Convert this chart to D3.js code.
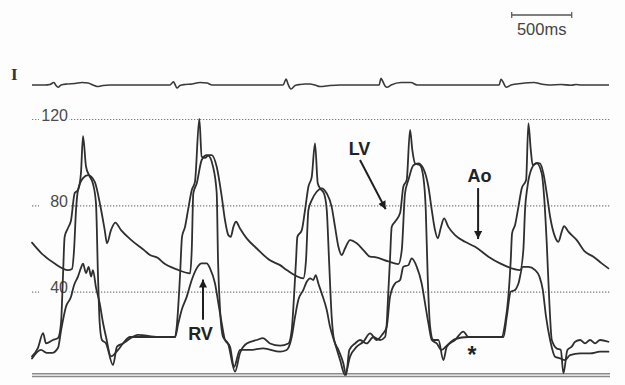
<!DOCTYPE html>
<html><head><meta charset="utf-8">
<script src="https://cdn.jsdelivr.net/npm/d3@7"></script>
<style>html,body{margin:0;padding:0;background:#fdfdfd}svg{display:block}</style>
</head><body><svg id="c" width="625" height="385"></svg>
<script>
// time in ms, pressure in mmHg
const aortic = [[0,62.7],[75,58],[189,53],[300,50],[333,50.5],[350,59],[367,78],[383,87],[425,92.6],[467,94],[522,91],[572,79],[606,68.5],[625,62.4],[658,68.5],[694,72],[742,68.5],[825,64],[939,59],[983,57],[1050,55.6],[1094,53.4],[1206,50.3],[1317,48.5],[1331,59.3],[1344,85.5],[1373,90.2],[1414,101],[1456,103.3],[1497,103.3],[1539,97.9],[1581,84],[1608,73.2],[1636,66.2],[1656,65.4],[1678,70],[1700,72.4],[1733,69.3],[1789,64.7],[1873,60],[1983,54.5],[2067,52.3],[2122,50],[2261,46.2],[2283,54.6],[2303,77.8],[2331,82.4],[2372,86.3],[2414,87.9],[2456,85.5],[2497,79.3],[2525,70],[2553,60.8],[2581,57],[2608,60],[2650,63.9],[2706,62.4],[2761,59.3],[2817,56.2],[2858,56],[2969,54],[3053,52.8],[3081,59.3],[3108,85.5],[3136,91.7],[3178,98.6],[3219,99.4],[3261,97],[3303,88.6],[3331,77.8],[3358,68.5],[3381,64.7],[3408,70],[3433,74],[3469,70],[3525,66.2],[3608,63.1],[3692,60.8],[3803,56.2],[3900,53.1],[4067,50],[4094,59.3],[4108,77.8],[4128,88.6],[4164,97.1],[4206,99.7],[4233,99.4],[4261,94.8],[4289,85.5],[4317,74.7],[4358,65.4],[4386,63.1],[4414,67.8],[4433,70.4],[4469,67.8],[4539,63.9],[4608,58.5],[4678,56.2],[4747,53.1],[4803,50.8]];

const leftVentricle = [[0,10],[50,14],[92,20.8],[117,16],[175,17.6],[217,18.5],[242,25.5],[258,47],[272,65.4],[300,69.5],[325,73],[356,85.7],[383,87],[408,95],[425,112],[450,98],[475,94],[508,90],[533,81],[550,47],[564,25.5],[583,17.6],[617,16],[675,6],[708,14.5],[758,16],[800,17.6],[883,20],[1050,19],[1192,19],[1206,23.8],[1233,47],[1250,65.4],[1275,70],[1300,77.8],[1331,87],[1358,91],[1394,120],[1414,102.5],[1442,102],[1467,103],[1508,98],[1539,85.7],[1550,54.6],[1567,31.5],[1592,19],[1633,16],[1692,3],[1733,11.6],[1789,16],[1873,17.6],[1925,18.5],[1983,16],[2067,15],[2136,16],[2164,22.2],[2183,37.6],[2200,54.6],[2211,65.4],[2248,68.5],[2275,77.8],[2303,88.6],[2331,93.2],[2358,108.7],[2381,90.2],[2400,87.9],[2433,85.5],[2456,77.8],[2475,54.6],[2497,28.4],[2517,17.6],[2553,13],[2594,6.8],[2617,1.4],[2644,13],[2692,16],[2733,17.6],[2789,16],[2844,19],[2900,17.6],[2942,19],[2956,25.5],[2969,40],[2983,55],[2997,70],[3025,72.4],[3067,76.4],[3094,88.6],[3122,91.7],[3150,115],[3169,105.6],[3192,99.4],[3233,98.6],[3261,93],[3281,77.8],[3297,47],[3317,23.8],[3344,17.6],[3386,17.6],[3428,8.3],[3456,14.5],[3525,17.6],[3594,21.5],[3636,19],[3692,19],[3900,19],[3914,19],[3942,25.3],[3969,37.6],[3989,54.6],[4000,67],[4025,70.9],[4053,79.3],[4081,87.9],[4117,91.7],[4136,118],[4156,105.6],[4172,98.6],[4206,99.4],[4247,94.8],[4267,84],[4289,62.4],[4311,34.6],[4331,17.6],[4372,13.7],[4406,13],[4428,2.2],[4461,13],[4497,14.5],[4525,16.8],[4567,17.6],[4608,16],[4650,17.6],[4692,16],[4733,17.6],[4803,16.8]];

const rightVentricle = [[0,9],[75,13],[125,11.6],[167,11.6],[217,14],[242,22],[283,33],[325,37.6],[350,43],[383,47],[408,51],[425,53],[450,48.6],[472,51.5],[492,47],[508,50],[533,42],[564,34.7],[592,25.5],[617,19],[658,10],[717,13],[758,16],[817,19],[1050,19],[1192,19],[1219,25.3],[1247,31.5],[1289,37.6],[1331,45.4],[1372,50.8],[1414,53.1],[1456,53.1],[1483,50.8],[1525,43.8],[1553,34.6],[1581,25.3],[1608,17.6],[1650,14.5],[1683,5],[1733,13],[1817,13],[1928,13.7],[2067,12.2],[2122,13],[2164,19],[2192,28.4],[2219,36.1],[2261,40.8],[2289,44.6],[2317,46.2],[2344,45.4],[2364,47.7],[2386,43.8],[2414,39.2],[2456,31.5],[2483,23.8],[2525,16],[2567,8.3],[2608,1.4],[2650,9.9],[2706,14.5],[2761,16.8],[2817,20.7],[2872,17.6],[2917,20],[2956,23.8],[2983,37.6],[3025,43.8],[3067,45.4],[3094,51.5],[3136,52.3],[3164,55.4],[3206,51.5],[3247,43.8],[3275,34.6],[3303,25.3],[3331,17.6],[3372,16],[3414,13],[3456,15],[3525,18],[3633,19],[3900,19],[3928,19],[3956,28.4],[3989,40],[4025,40.8],[4053,43.8],[4089,51.5],[4136,51.5],[4192,50],[4228,47],[4256,40.8],[4283,28.4],[4317,17.6],[4358,9.9],[4400,9.1],[4442,8.3],[4483,10.6],[4567,11.4],[4650,11.4],[4733,12.2],[4803,12.2]];

// ECG lead I (arbitrary units)
const ecgLeadI = [[0,0],[108,0],[150,0.05],[183,0.25],[200,-0.05],[217,-0.22],[242,0],[292,0.1],[358,0.15],[417,0.25],[467,0.2],[508,0],[542,-0.15],[592,-0.05],[650,0],[1150,0],[1167,0.2],[1179,0.33],[1192,0.05],[1208,-0.3],[1233,-0.05],[1275,0.05],[1333,0.1],[1400,0.25],[1458,0.2],[1500,0],[1650,0],[2092,0],[2108,0.4],[2117,0.6],[2133,0.1],[2158,-0.4],[2192,-0.05],[2233,0.05],[2275,0.1],[2317,0.1],[2358,0],[2400,-0.15],[2483,-0.05],[2567,0],[2733,0],[2892,0],[2908,0.67],[2917,0.5],[2942,-0.1],[2958,-0.23],[2992,0],[3075,0.25],[3158,0.25],[3208,0],[3492,0],[3658,0],[3892,0],[3908,0.57],[3925,0.3],[3950,-0.23],[3992,0],[4075,0.15],[4183,0.25],[4242,0.1],[4308,0],[4408,0.05],[4492,-0.03],[4533,0.05],[4575,0],[4808,0]];

const gridTicks = [40, 80, 120];
const tickLabels = ['40', '80', '120'];
const scaleBarMs = [3997, 4497];
const scaleBarLabel = '500ms';
const leadLabel = 'I';
const traceLabels = [
  {text: 'LV', t: 2729, v: 103.3},
  {text: 'Ao', t: 3729, v: 90.8},
  {text: 'RV', t: 1404, v: 17.6}
];
const arrows = [
  {t1: 2733, v1: 101, t2: 2958, v2: 77},
  {t1: 3717, v1: 88, t2: 3717, v2: 63},
  {t1: 1425, v1: 27, t2: 1425, v2: 47}
];
const asteriskMark = {text: '*', t: 3667, v: 6.9};

const W = 625, H = 385;
const svg = d3.select('#c');
const bg = '#fdfdfd';
svg.append('rect').attr('width', W).attr('height', H).attr('fill', bg);

const x = d3.scaleLinear().domain([0, 4816]).range([32, 610]);
const y = d3.scaleLinear().domain([0, 120]).range([378, 119]);
const ye = d3.scaleLinear().domain([-1, 1]).range([95, 75]);

// grid via axis
const gAxis = svg.append('g').attr('transform', `translate(${x.range()[0]},0)`)
  .call(d3.axisRight(y).tickValues(gridTicks).tickSize(x.range()[1] - x.range()[0])
    .tickFormat((d, i) => tickLabels[i]));
gAxis.select('.domain').remove();
gAxis.selectAll('.tick line').attr('stroke', '#7a7a7a').attr('stroke-width', 1.1)
  .attr('stroke-dasharray', '1.3,1.7');
gAxis.selectAll('.tick').insert('rect', 'text')
  .attr('x', 7).attr('y', -11).attr('width', 30).attr('height', 14).attr('fill', bg);
gAxis.selectAll('.tick text').attr('x', 36).attr('dy', '0.08em')
  .attr('text-anchor', 'end').attr('fill', '#4a4a4a')
  .attr('font-family', '"Liberation Sans", Arial, sans-serif').attr('font-size', 16);

// baseline (double line)
[y(0) - 4.2, y(0) - 1.4].forEach(yy => {
  svg.append('line').attr('x1', x.range()[0]).attr('x2', x.range()[1])
    .attr('y1', yy).attr('y2', yy).attr('stroke', '#8a8a8a').attr('stroke-width', 1.5);
});

const line = d3.line().x(d => x(d[0])).y(d => y(d[1])).curve(d3.curveMonotoneX);
const traceColor = '#2f2f2f';
[aortic, rightVentricle, leftVentricle].forEach(s => {
  svg.append('path').datum(s).attr('d', line).attr('fill', 'none')
    .attr('stroke', traceColor).attr('stroke-width', 1.8)
    .attr('stroke-linejoin', 'round').attr('stroke-linecap', 'round');
});

// ECG
const eline = d3.line().x(d => x(d[0])).y(d => ye(d[1])).curve(d3.curveMonotoneX);
svg.append('path').datum(ecgLeadI).attr('d', eline).attr('fill', 'none')
  .attr('stroke', '#3a3a3a').attr('stroke-width', 1.6).attr('stroke-linejoin', 'round');

svg.append('text').text(leadLabel).attr('x', 11).attr('y', 80)
  .attr('font-family', '"Liberation Serif", "Times New Roman", serif')
  .attr('font-weight', 'bold').attr('font-size', 17).attr('fill', '#333');

// scale bar
const sbY = 15;
const sx1 = x(scaleBarMs[0]), sx2 = x(scaleBarMs[1]);
svg.append('line').attr('x1', sx1).attr('x2', sx2).attr('y1', sbY).attr('y2', sbY)
  .attr('stroke', '#555').attr('stroke-width', 1.4);
[sx1, sx2].forEach(sx => svg.append('line').attr('x1', sx).attr('x2', sx)
  .attr('y1', sbY - 3).attr('y2', sbY + 3).attr('stroke', '#555').attr('stroke-width', 1.2));
svg.append('text').text(scaleBarLabel).attr('x', (sx1 + sx2) / 2).attr('y', 35)
  .attr('text-anchor', 'middle').attr('font-family', '"Liberation Sans", Arial, sans-serif')
  .attr('font-size', 16.5).attr('fill', '#444');

// arrows
const defs = svg.append('defs');
defs.append('marker').attr('id', 'ah').attr('viewBox', '0 0 10 10').attr('refX', 10).attr('refY', 5)
  .attr('markerWidth', 9).attr('markerHeight', 8).attr('markerUnits', 'userSpaceOnUse')
  .attr('orient', 'auto')
  .append('path').attr('d', 'M0,0 L10,5 L0,10 Z').attr('fill', '#1e1e1e');
arrows.forEach(a => {
  const x1 = x(a.t1), y1 = y(a.v1), x2 = x(a.t2), y2 = y(a.v2);
  const L = Math.hypot(x2 - x1, y2 - y1), k = (L - 3) / L;
  svg.append('line').attr('x1', x1).attr('y1', y1)
    .attr('x2', x1 + (x2 - x1) * k).attr('y2', y1 + (y2 - y1) * k)
    .attr('stroke', '#1e1e1e').attr('stroke-width', 2).attr('marker-end', 'url(#ah)');
});
traceLabels.forEach(l => {
  svg.append('text').text(l.text).attr('x', x(l.t)).attr('y', y(l.v))
    .attr('text-anchor', 'middle').attr('font-family', '"Liberation Sans", Arial, sans-serif')
    .attr('font-weight', 'bold').attr('font-size', 18).attr('fill', '#222');
});
svg.append('text').text(asteriskMark.text).attr('x', x(asteriskMark.t)).attr('y', y(asteriskMark.v))
  .attr('text-anchor', 'middle').attr('font-family', '"Liberation Sans", Arial, sans-serif')
  .attr('font-weight', 'bold').attr('font-size', 23).attr('fill', '#222');
</script></body></html>
